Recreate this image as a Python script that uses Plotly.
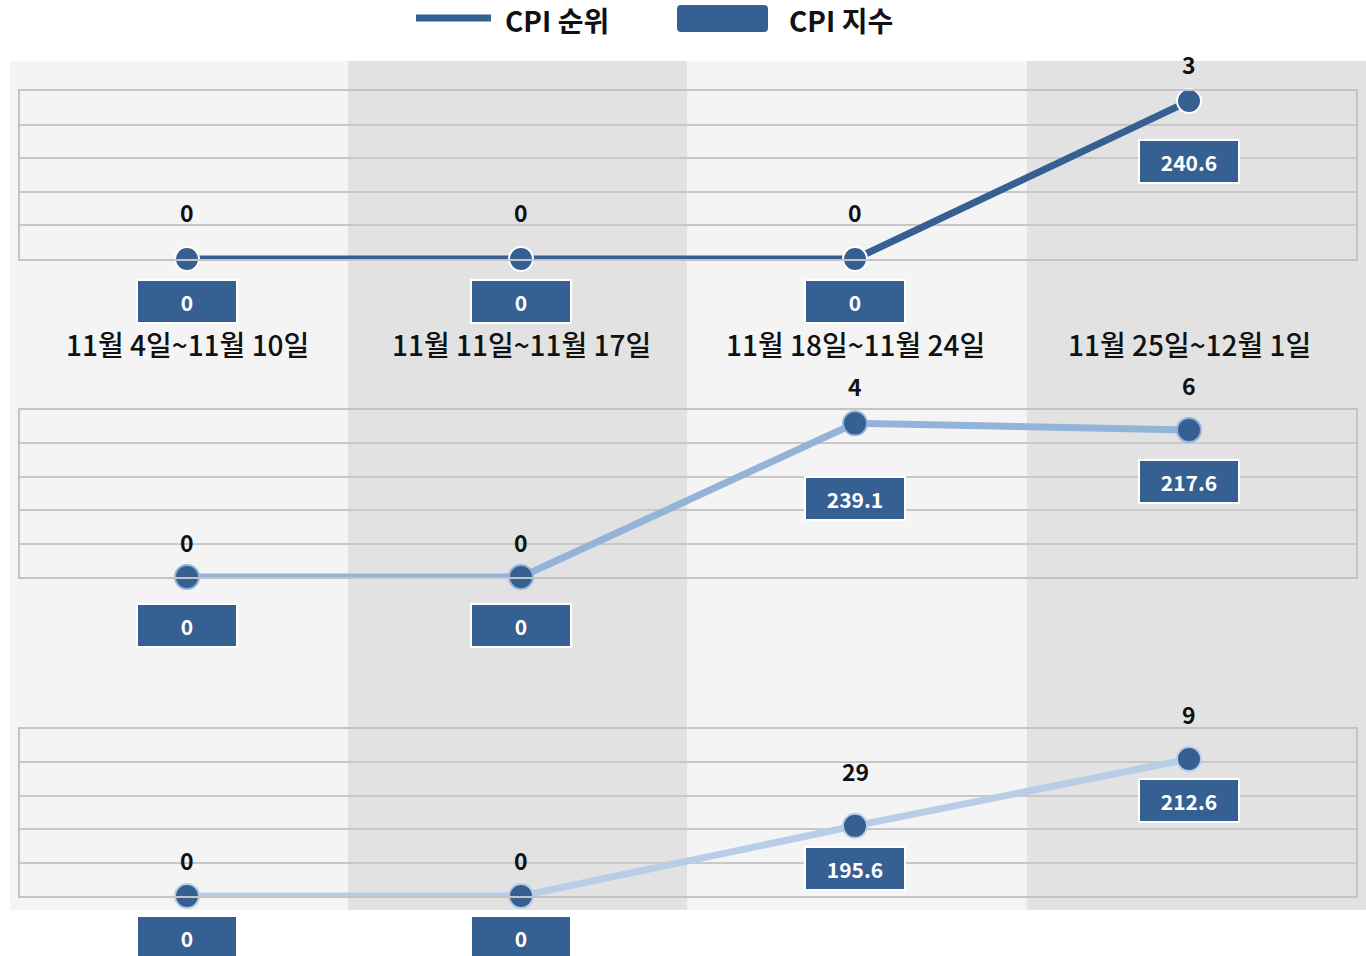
import plotly.graph_objects as go

# ---------------- data ----------------
categories = ["11월 4일~11월 10일", "11월 11일~11월 17일", "11월 18일~11월 24일", "11월 25일~12월 1일"]
rank_a = [0, 0, 0, 3]
index_a = [0, 0, 0, 240.6]
rank_b = [0, 0, 4, 6]
index_b = [0, 0, 239.1, 217.6]
rank_c = [0, 0, 29, 9]
index_c = [0, 0, 195.6, 212.6]
legend_labels = ["CPI 순위", "CPI 지수"]

# ---------------- style ----------------
W, H = 1366, 956
RANK_MAX = 50            # rank axis runs from RANK_MAX (bottom) to 0 (top); rank 0 = no rank -> bottom
DARK = "#365f92"
FONT = "Noto Sans CJK KR"

def px(x):
    return x / W

def py(y):
    return 1 - y / H

panels = [
    dict(rank=rank_a, idx=index_a, top=91, bot=259, line="#365f92", edge="#ffffff",
         rank_dy=[47, 47, 47, 37], box_dy=[-42, -42, -42, -60]),
    dict(rank=rank_b, idx=index_b, top=410, bot=577, line="#93b3d9", edge="#93b3d9",
         rank_dy=[35, 35, 37, 45], box_dy=[-48, -48, -75, -51]),
    dict(rank=rank_c, idx=index_c, top=729, bot=896, line="#b8cde6", edge="#b8cde6",
         rank_dy=[36, 36, 55, 45], box_dy=[-41, -41, -43, -41]),
]

fig = go.Figure()
layout = dict(
    width=W, height=H, margin=dict(l=0, r=0, t=0, b=0),
    paper_bgcolor="white", plot_bgcolor="rgba(0,0,0,0)",
    showlegend=False, font=dict(family=FONT, color="#111111"),
)
shapes = []
annotations = []

# background bands
bands = [(10, 348, "#f4f4f4"), (348, 687, "#e2e2e2"), (687, 1027, "#f4f4f4"), (1027, 1366, "#e2e2e2")]
for x0, x1, c in bands:
    shapes.append(dict(type="rect", xref="paper", yref="paper", x0=px(x0), x1=px(x1),
                       y0=py(910), y1=py(61), fillcolor=c, line=dict(width=0), layer="below"))

for i, p in enumerate(panels, start=1):
    sx = "" if i == 1 else str(i)
    xa, ya = "x" + sx, "y" + sx
    layout["xaxis" + sx] = dict(
        domain=[px(20), px(1356)], anchor=ya, type="category", range=[-0.5, 3.5],
        showgrid=False, showticklabels=False, ticks="", zeroline=False,
        showline=True, mirror=True, linecolor="#c4c4c4", linewidth=2, fixedrange=True,
    )
    layout["yaxis" + sx] = dict(
        domain=[py(p["bot"]), py(p["top"])], anchor=xa, range=[RANK_MAX, 0],
        tick0=0, dtick=10, showgrid=True, gridcolor="#c8c8c8", gridwidth=2,
        showticklabels=False, ticks="", zeroline=False,
        showline=True, mirror=True, linecolor="#c4c4c4", linewidth=2, fixedrange=True,
    )
    yvals = [r if r > 0 else RANK_MAX for r in p["rank"]]
    fig.add_trace(go.Scatter(
        x=categories, y=yvals, xaxis=xa, yaxis=ya, mode="lines+markers",
        line=dict(color=p["line"], width=7),
        marker=dict(size=24, color=DARK, line=dict(color=p["edge"], width=2)),
        cliponaxis=False, hoverinfo="skip",
    ))
    for j, (r, v) in enumerate(zip(p["rank"], p["idx"])):
        annotations.append(dict(
            x=j, y=yvals[j], xref=xa, yref=ya, text=f"<b>{r}</b>", showarrow=False,
            yshift=p["rank_dy"][j], font=dict(size=23, color="#111111", family=FONT),
        ))
        annotations.append(dict(
            x=j, y=yvals[j], xref=xa, yref=ya, text=f"<b>{v:g}</b>", showarrow=False,
            yshift=p["box_dy"][j], width=96, height=39, borderpad=1,
            bgcolor=DARK, bordercolor="#ffffff", borderwidth=2,
            font=dict(size=21, color="#ffffff", family=FONT),
        ))

# category labels (between first and second panel)
for j, c in enumerate(categories):
    annotations.append(dict(
        x=j, y=py(344), xref="x", yref="paper", text=c, showarrow=False,
        yanchor="middle", font=dict(size=28, color="#111111", family=FONT, weight=500),
    ))

# legend
shapes.append(dict(type="line", xref="paper", yref="paper", x0=px(416), x1=px(491),
                   y0=py(18), y1=py(18), line=dict(color=DARK, width=7)))

def rounded_rect(x0, y0, x1, y1, r):
    pts = [
        f"M {px(x0 + r)} {py(y0)}", f"L {px(x1 - r)} {py(y0)}",
        f"Q {px(x1)} {py(y0)} {px(x1)} {py(y0 + r)}", f"L {px(x1)} {py(y1 - r)}",
        f"Q {px(x1)} {py(y1)} {px(x1 - r)} {py(y1)}", f"L {px(x0 + r)} {py(y1)}",
        f"Q {px(x0)} {py(y1)} {px(x0)} {py(y1 - r)}", f"L {px(x0)} {py(y0 + r)}",
        f"Q {px(x0)} {py(y0)} {px(x0 + r)} {py(y0)}", "Z",
    ]
    return " ".join(pts)

shapes.append(dict(type="path", xref="paper", yref="paper", path=rounded_rect(677, 5, 768, 32, 4),
                   fillcolor=DARK, line=dict(width=0)))
annotations.append(dict(x=px(503), y=py(20), xref="paper", yref="paper", xanchor="left",
                        yanchor="middle", text=f"<b>{legend_labels[0]}</b>", showarrow=False,
                        font=dict(size=28, color="#111111", family=FONT)))
annotations.append(dict(x=px(787), y=py(20), xref="paper", yref="paper", xanchor="left",
                        yanchor="middle", text=f"<b>{legend_labels[1]}</b>", showarrow=False,
                        font=dict(size=28, color="#111111", family=FONT)))

layout["shapes"] = shapes
layout["annotations"] = annotations
fig.update_layout(**layout)
fig.write_html("out.html", config={"displayModeBar": False},
               post_script="document.body.style.margin='0px';")
